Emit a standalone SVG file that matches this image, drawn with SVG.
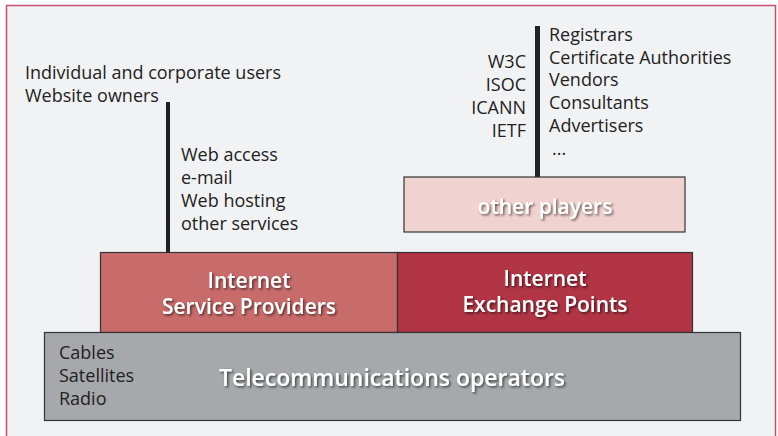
<svg xmlns="http://www.w3.org/2000/svg" width="778" height="436" viewBox="0 0 778 436">
<defs>
<style>
.t{font-family:"Open Sans","DejaVu Sans",sans-serif;font-size:18px;fill:#222}
.w{font-family:"Open Sans","DejaVu Sans",sans-serif;font-weight:600;fill:#fff;text-anchor:middle}
.box{stroke:#333;stroke-width:1.2}
</style>
<filter id="sh" x="-10%" y="-30%" width="120%" height="160%">
<feDropShadow dx="1.5" dy="1.5" stdDeviation="1" flood-color="#000" flood-opacity="0.6"/>
</filter>
</defs>
<rect x="0" y="0" width="778" height="436" fill="#fff"/>
<rect x="6.5" y="5.5" width="769" height="440" fill="#F1F2F4" stroke="#C8506E" stroke-width="1.5"/>
<g id="connectors">
<rect x="166" y="102" width="4" height="150" fill="#222"/>
<rect x="535" y="26" width="5" height="151" fill="#222"/>
</g>
<g id="users">
<text class="t" x="25" y="79">Individual and corporate users</text>
<text class="t" x="25" y="102">Website owners</text>
</g>
<g id="services">
<text class="t" x="181" y="161">Web access</text>
<text class="t" x="181" y="184">e-mail</text>
<text class="t" x="181" y="207">Web hosting</text>
<text class="t" x="181" y="230">other services</text>
</g>
<g id="orgs">
<text class="t" x="526" y="68" text-anchor="end">W3C</text>
<text class="t" x="526" y="91" text-anchor="end">ISOC</text>
<text class="t" x="526" y="114" text-anchor="end">ICANN</text>
<text class="t" x="526" y="137" text-anchor="end">IETF</text>
</g>
<g id="others-list">
<text class="t" x="549" y="41">Registrars</text>
<text class="t" x="549" y="64">Certificate Authorities</text>
<text class="t" x="549" y="86">Vendors</text>
<text class="t" x="549" y="109">Consultants</text>
<text class="t" x="549" y="132">Advertisers</text>
<text class="t" x="552" y="155">...</text>
</g>
<g id="other-players">
<rect class="box" x="404" y="177" width="281" height="55" fill="#F0D2D0"/>
<text class="w" x="545" y="214" font-size="21" filter="url(#sh)">other players</text>
</g>
<g id="isp">
<rect class="box" x="100.5" y="252.5" width="297" height="80" fill="#C86B6B"/>
<text class="w" x="249" y="288" font-size="21" filter="url(#sh)">Internet</text>
<text class="w" x="249" y="314" font-size="21" filter="url(#sh)">Service Providers</text>
</g>
<g id="ixp">
<rect class="box" x="397.5" y="252.5" width="295" height="80" fill="#B13545"/>
<text class="w" x="545" y="286" font-size="21" filter="url(#sh)">Internet</text>
<text class="w" x="545" y="312" font-size="21" filter="url(#sh)">Exchange Points</text>
</g>
<g id="telecom">
<rect class="box" x="44.5" y="332.5" width="696" height="88" fill="#A7A8AB"/>
<text class="t" x="59" y="359">Cables</text>
<text class="t" x="59" y="382">Satellites</text>
<text class="t" x="59" y="405">Radio</text>
<text class="w" x="392" y="386" font-size="23" filter="url(#sh)">Telecommunications operators</text>
</g>
</svg>
